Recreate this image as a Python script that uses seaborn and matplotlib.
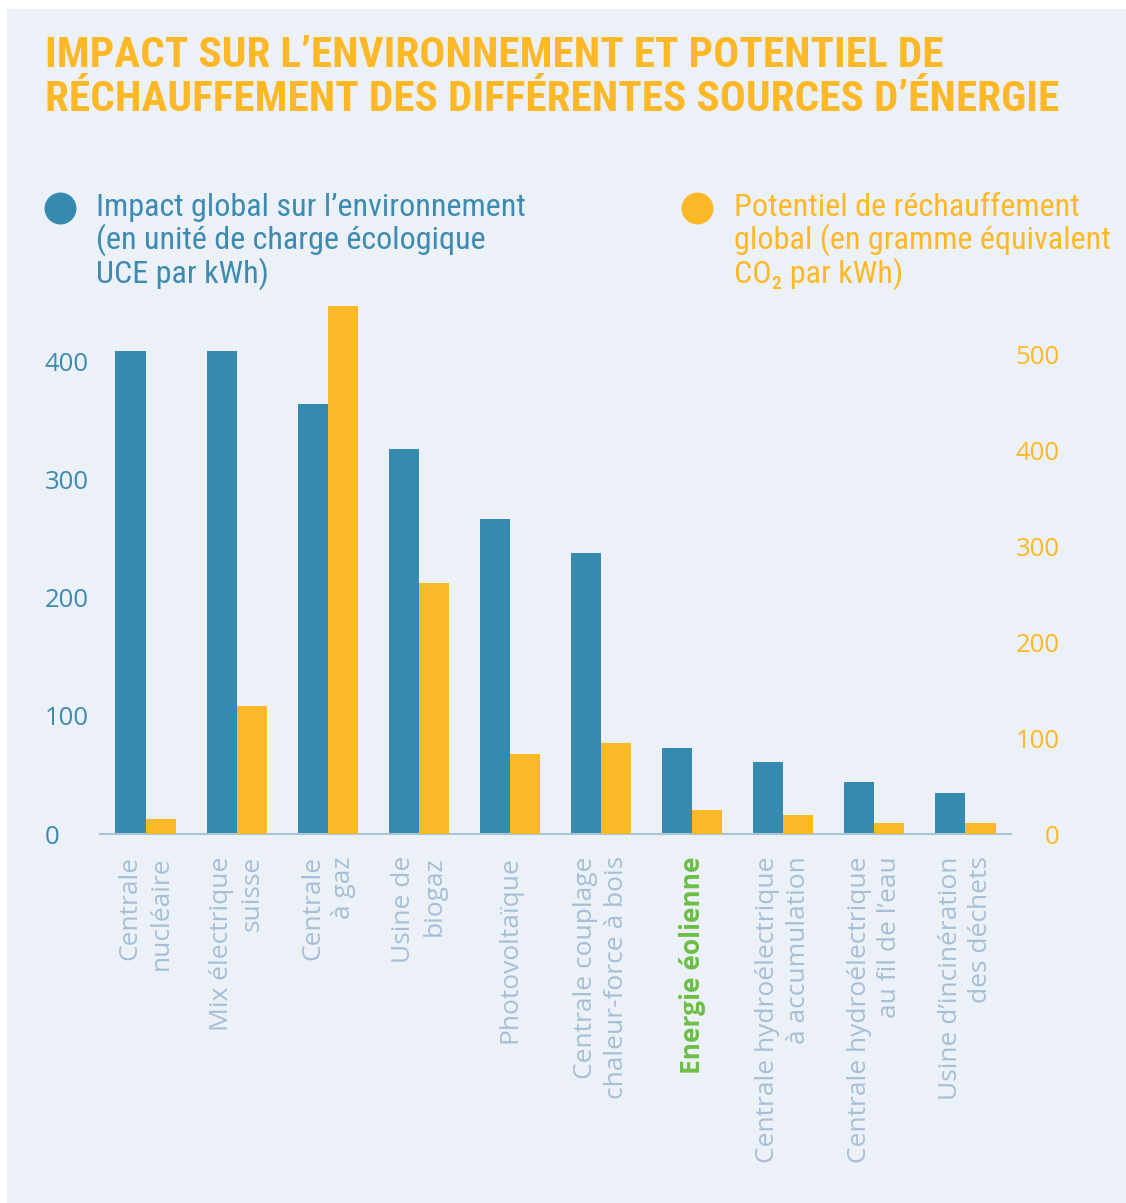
import matplotlib.pyplot as plt
import seaborn as sns
import pandas as pd
from matplotlib.lines import Line2D
from matplotlib.patches import Rectangle

# data
sources = [
    "Centrale\nnucléaire",
    "Mix électrique\nsuisse",
    "Centrale\nà gaz",
    "Usine de\nbiogaz",
    "Photovoltaïque",
    "Centrale couplage\nchaleur-force à bois",
    "Energie éolienne",
    "Centrale hydroélectrique\nà accumulation",
    "Centrale hydroélectrique\nau fil de l’eau",
    "Usine d’incinération\ndes déchets",
]
impact_uce = [409, 409, 364, 326, 267, 238, 73, 61, 44, 35]
co2_g = [16, 134, 551, 262, 84, 95, 25, 20, 12, 12]
left_ticks = [0, 100, 200, 300, 400]
right_ticks = [0, 100, 200, 300, 400, 500]

BG = "#ECF1F8"
BLUE = "#378AAF"
BLUE_TXT = "#3D8BB1"
ORANGE = "#FDB827"
LABEL = "#A6BFD6"
GREEN = "#6DBE45"
NARROW = ["Roboto Condensed", "Liberation Sans Narrow", "Open Sans", "DejaVu Sans"]

sns.set_style("white")
plt.rcParams["font.family"] = ["Open Sans", "DejaVu Sans"]

W, H = 1126, 1203
fig = plt.figure(figsize=(W / 100, H / 100), dpi=100, facecolor="white")
fig.patches.append(Rectangle((7 / W, 0), 1, 1 - 9 / H, transform=fig.transFigure,
                             color=BG, zorder=-10))
renderer = fig.canvas.get_renderer()


def fit_width(txt, target_px):
    # scale the font so the widest line spans target_px
    w = txt.get_window_extent(renderer).width
    txt.set_fontsize(txt.get_fontsize() * target_px / w)


ax = fig.add_axes([100 / W, 1 - 834 / H, 911 / W, 544 / H])
ax.set_facecolor("none")

df = pd.DataFrame({"source": sources, "impact": impact_uce, "co2": co2_g})

# blue bars on the left scale, shifted left of the category centre
sns.barplot(data=df, x="source", y="impact", color=BLUE, width=0.33,
            saturation=1, linewidth=0, ax=ax)
for p in ax.patches:
    p.set_x(p.get_x() - 0.165)

# orange bars on the right scale
ax2 = ax.twinx()
sns.barplot(data=df, x="source", y="co2", color=ORANGE, width=0.33,
            saturation=1, linewidth=0, ax=ax2)
for p in ax2.patches:
    p.set_x(p.get_x() + 0.165)

ax.set_xlim(-0.5, len(sources) - 0.5)
ax.set_ylim(0, 460.4)
ax2.set_ylim(0, 567.8)
ax.set_yticks(left_ticks)
ax2.set_yticks(right_ticks)
for a in (ax, ax2):
    a.set_xlabel("")
    a.set_ylabel("")
    for s in a.spines.values():
        s.set_visible(False)
ax.spines["bottom"].set_visible(True)
ax.spines["bottom"].set_color("#A9C4D8")
ax.spines["bottom"].set_linewidth(1.5)

ax.tick_params(axis="y", length=0, pad=40, labelsize=18.5, labelcolor=BLUE_TXT)
for lab in ax.get_yticklabels():
    lab.set_ha("left")
    lab.set_fontweight("medium")
ax2.tick_params(axis="y", length=0, pad=35, labelsize=18.5, labelcolor=ORANGE)
for lab in ax2.get_yticklabels():
    lab.set_ha("right")
    lab.set_fontweight("medium")

ax.set_xticks(range(len(sources)))
ax.set_xticklabels(sources, rotation=90, multialignment="right", linespacing=1.3)
ax.tick_params(axis="x", length=0, pad=16, labelsize=19, labelcolor=LABEL)
eol = ax.get_xticklabels()[6]
eol.set_color(GREEN)
eol.set_fontweight("bold")

# title
title = fig.text(45 / W, 1 - 35 / H,
                 "IMPACT SUR L’ENVIRONNEMENT ET POTENTIEL DE\n"
                 "RÉCHAUFFEMENT DES DIFFÉRENTES SOURCES D’ÉNERGIE",
                 va="top", ha="left", fontsize=26, fontweight="bold", color=ORANGE,
                 family=NARROW, linespacing=1.1)
fit_width(title, 1015)

# legend
fig.add_artist(Line2D([60 / W], [1 - 208 / H], marker="o", markersize=22,
                      color=BLUE, transform=fig.transFigure))
leg1 = fig.text(96 / W, 1 - 193 / H,
                "Impact global sur l’environnement\n(en unité de charge écologique\nUCE par kWh)",
                va="top", ha="left", fontsize=18, color=BLUE_TXT, family=NARROW,
                linespacing=1.05)
fit_width(leg1, 429)
fig.add_artist(Line2D([697 / W], [1 - 208 / H], marker="o", markersize=22,
                      color=ORANGE, transform=fig.transFigure))
leg2 = fig.text(734 / W, 1 - 193 / H,
                "Potentiel de réchauffement\nglobal (en gramme équivalent\nCO₂ par kWh)",
                va="top", ha="left", fontsize=18, color=ORANGE, family=NARROW,
                linespacing=1.05)
fit_width(leg2, 378)

fig.savefig("out.png", dpi=100)
